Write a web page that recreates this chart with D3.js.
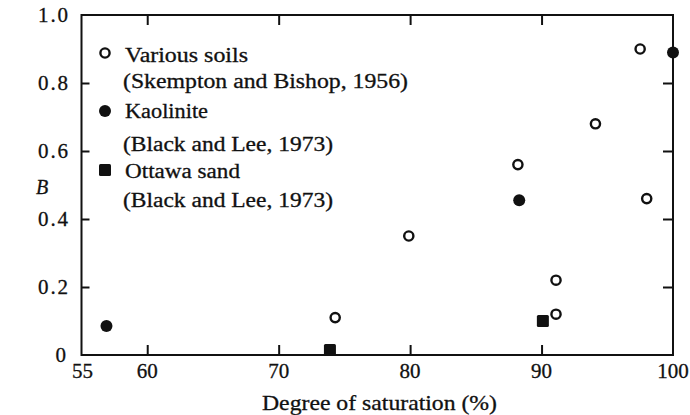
<!DOCTYPE html>
<html>
<head>
<meta charset="utf-8">
<script src="https://cdn.jsdelivr.net/npm/d3@7"></script>
<style>
  html, body { margin: 0; padding: 0; background: #fff; }
  svg { display: block; }
  text { font-family: "Liberation Serif", "Times New Roman", "DejaVu Serif", serif; fill: #111; stroke: #111; stroke-width: 0.3px; }
</style>
</head>
<body>
<svg id="chart" width="690" height="415"></svg>
<script>
// Pore-pressure parameter B versus degree of saturation
const xTicks = [55, 60, 70, 80, 90, 100];
const yTicks = [0, 0.2, 0.4, 0.6, 0.8, 1.0];
const yTickLabels = ["0", "0.2", "0.4", "0.6", "0.8", "1.0"];

const variousSoilsS = [74.3, 79.9, 88.2, 94.1, 97.5, 98.0, 91.1, 91.1];
const variousSoilsB = [0.11, 0.35, 0.56, 0.68, 0.90, 0.46, 0.22, 0.12];

const kaoliniteS = [56.9, 88.3, 100.0];
const kaoliniteB = [0.085, 0.455, 0.89];

const ottawaS = [73.9, 90.1];
const ottawaB = [0.015, 0.10];

const legendItems = [
  { shape: "open", name: "Various soils", source: "(Skempton and Bishop, 1956)" },
  { shape: "filled", name: "Kaolinite", source: "(Black and Lee, 1973)" },
  { shape: "square", name: "Ottawa sand", source: "(Black and Lee, 1973)" }
];

const svg = d3.select("#chart");
const ink = "#111";

const x = d3.scaleLinear().domain([55, 100]).range([81.5, 673]);
const y = d3.scaleLinear().domain([0, 1]).range([355, 15]);

// Frame
svg.append("rect")
  .attr("x", x(55)).attr("y", y(1))
  .attr("width", x(100) - x(55)).attr("height", y(0) - y(1))
  .attr("fill", "none").attr("stroke", ink).attr("stroke-width", 2);

const innerX = xTicks.filter(d => d > 55 && d < 100);
const innerY = yTicks.filter(d => d > 0 && d < 1);

// Bottom axis: ticks point inward, labels below
const axisB = svg.append("g").attr("transform", `translate(0,${y(0)})`)
  .call(d3.axisBottom(x).tickValues(innerX).tickSize(-10).tickFormat(""));
axisB.select(".domain").remove();
axisB.selectAll("line").attr("stroke", ink).attr("stroke-width", 2);

svg.append("g").selectAll("text").data(xTicks).join("text")
  .attr("x", d => x(d) + (d === 55 ? 1 : 0))
  .attr("y", 378)
  .attr("text-anchor", "middle")
  .attr("font-size", 21)
  .text(d => d);

// Top axis: inward ticks only
const axisT = svg.append("g").attr("transform", `translate(0,${y(1)})`)
  .call(d3.axisTop(x).tickValues(innerX).tickSize(-10).tickFormat(""));
axisT.select(".domain").remove();
axisT.selectAll("line").attr("stroke", ink).attr("stroke-width", 2);

// Left axis: inward ticks, labels to the left
const axisL = svg.append("g").attr("transform", `translate(${x(55)},0)`)
  .call(d3.axisLeft(y).tickValues(innerY).tickSize(-8).tickFormat(""));
axisL.select(".domain").remove();
axisL.selectAll("line").attr("stroke", ink).attr("stroke-width", 2);

svg.append("g").selectAll("text").data(yTicks).join("text")
  .attr("x", (d, i) => i === 0 ? 66 : 38)
  .attr("y", d => y(d))
  .attr("dy", "0.35em")
  .attr("text-anchor", (d, i) => i === 0 ? "end" : "start")
  .attr("font-size", 21)
  .attr("textLength", (d, i) => i === 0 ? null : 30)
  .attr("lengthAdjust", "spacing")
  .text((d, i) => yTickLabels[i]);

// Right axis: inward ticks only
const axisR = svg.append("g").attr("transform", `translate(${x(100)},0)`)
  .call(d3.axisRight(y).tickValues(innerY).tickSize(-10).tickFormat(""));
axisR.select(".domain").remove();
axisR.selectAll("line").attr("stroke", ink).attr("stroke-width", 2);

// Axis titles
svg.append("text")
  .attr("x", 42).attr("y", 194)
  .attr("text-anchor", "middle")
  .attr("font-size", 20)
  .attr("font-style", "italic")
  .text("B");

svg.append("text")
  .attr("x", 262).attr("y", 410)
  .attr("font-size", 21)
  .attr("textLength", 235).attr("lengthAdjust", "spacingAndGlyphs")
  .text("Degree of saturation (%)");

// Marker drawing helpers
function drawMarker(g, shape, cx, cy) {
  if (shape === "open") {
    g.append("circle").attr("cx", cx).attr("cy", cy).attr("r", 4.6)
      .attr("fill", "#fff").attr("stroke", ink).attr("stroke-width", 2.4);
  } else if (shape === "filled") {
    g.append("circle").attr("cx", cx).attr("cy", cy).attr("r", 6)
      .attr("fill", ink);
  } else {
    g.append("rect").attr("x", cx - 6).attr("y", cy - 6)
      .attr("width", 12).attr("height", 12).attr("rx", 1.5)
      .attr("fill", ink);
  }
}

// Data points
const pts = svg.append("g");
variousSoilsS.forEach((s, i) => drawMarker(pts, "open", x(s), y(variousSoilsB[i])));
kaoliniteS.forEach((s, i) => drawMarker(pts, "filled", x(s), y(kaoliniteB[i])));
ottawaS.forEach((s, i) => drawMarker(pts, "square", x(s), y(ottawaB[i])));

// Legend
const legend = svg.append("g");
const nameBase = [62, 118, 178];
const sourceBase = [88, 151, 207];
const markerY = [53, 111, 170];
const nameLen = [123, 83, 115];
const sourceLen = [285, 210, 210];
legendItems.forEach((item, i) => {
  drawMarker(legend, item.shape, 105, markerY[i]);
  legend.append("text")
    .attr("x", 125).attr("y", nameBase[i])
    .attr("font-size", 20)
    .attr("textLength", nameLen[i]).attr("lengthAdjust", "spacingAndGlyphs")
    .text(item.name);
  legend.append("text")
    .attr("x", 123).attr("y", sourceBase[i])
    .attr("font-size", 20)
    .attr("textLength", sourceLen[i]).attr("lengthAdjust", "spacingAndGlyphs")
    .text(item.source);
});
</script>
</body>
</html>
